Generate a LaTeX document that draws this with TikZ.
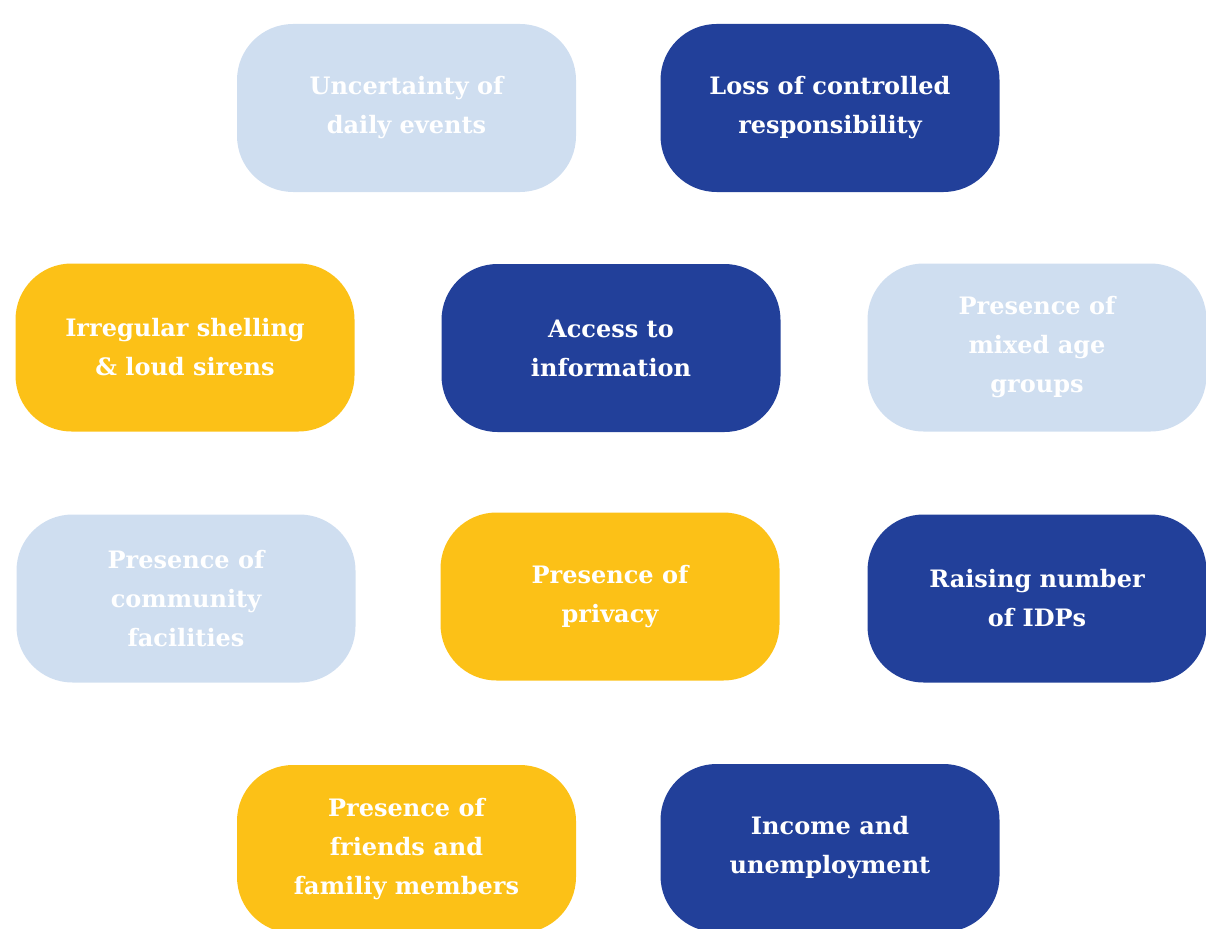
\documentclass[tikz,border=0pt]{standalone}
\usepackage{fontspec}
\setmainfont{DejaVu Serif}
\definecolor{lightb}{HTML}{CFDEF0}
\definecolor{darkb}{HTML}{22409A}
\definecolor{yel}{HTML}{FCC117}
\begin{document}
\begin{tikzpicture}[x=1pt,y=-1pt,
  card/.style={rectangle, rounded corners=56pt, minimum width=339pt, minimum height=168pt,
    align=center, text=white, inner sep=0pt,
    font=\fontsize{24}{39}\selectfont\bfseries},
  lb/.style={card, fill=lightb},
  db/.style={card, fill=darkb},
  yb/.style={card, fill=yel}]
\useasboundingbox (0,0) rectangle (1206,928);
\node[lb] (n1) at (406.5,108) {Uncertainty of\\daily events};
\node[db] (n2) at (830,108) {Loss of controlled\\responsibility};
\node[yb] (n3) at (185,347.5) {Irregular shelling\\\& loud sirens};
\node[db] (n4) at (611,348) {Access to\\information};
\node[lb] (n5) at (1037,347.5) {Presence of\\mixed age\\groups};
\node[lb] (n6) at (186,598.5) {Presence of\\community\\facilities};
\node[yb] (n7) at (610,596.5) {Presence of\\privacy};
\node[db] (n8) at (1037,598.5) {Raising number\\of IDPs};
\node[yb] (n9) at (406.5,849) {Presence of\\friends and\\familiy members};
\node[db] (n10) at (830,848) {Income and\\unemployment};
\end{tikzpicture}
\end{document}
